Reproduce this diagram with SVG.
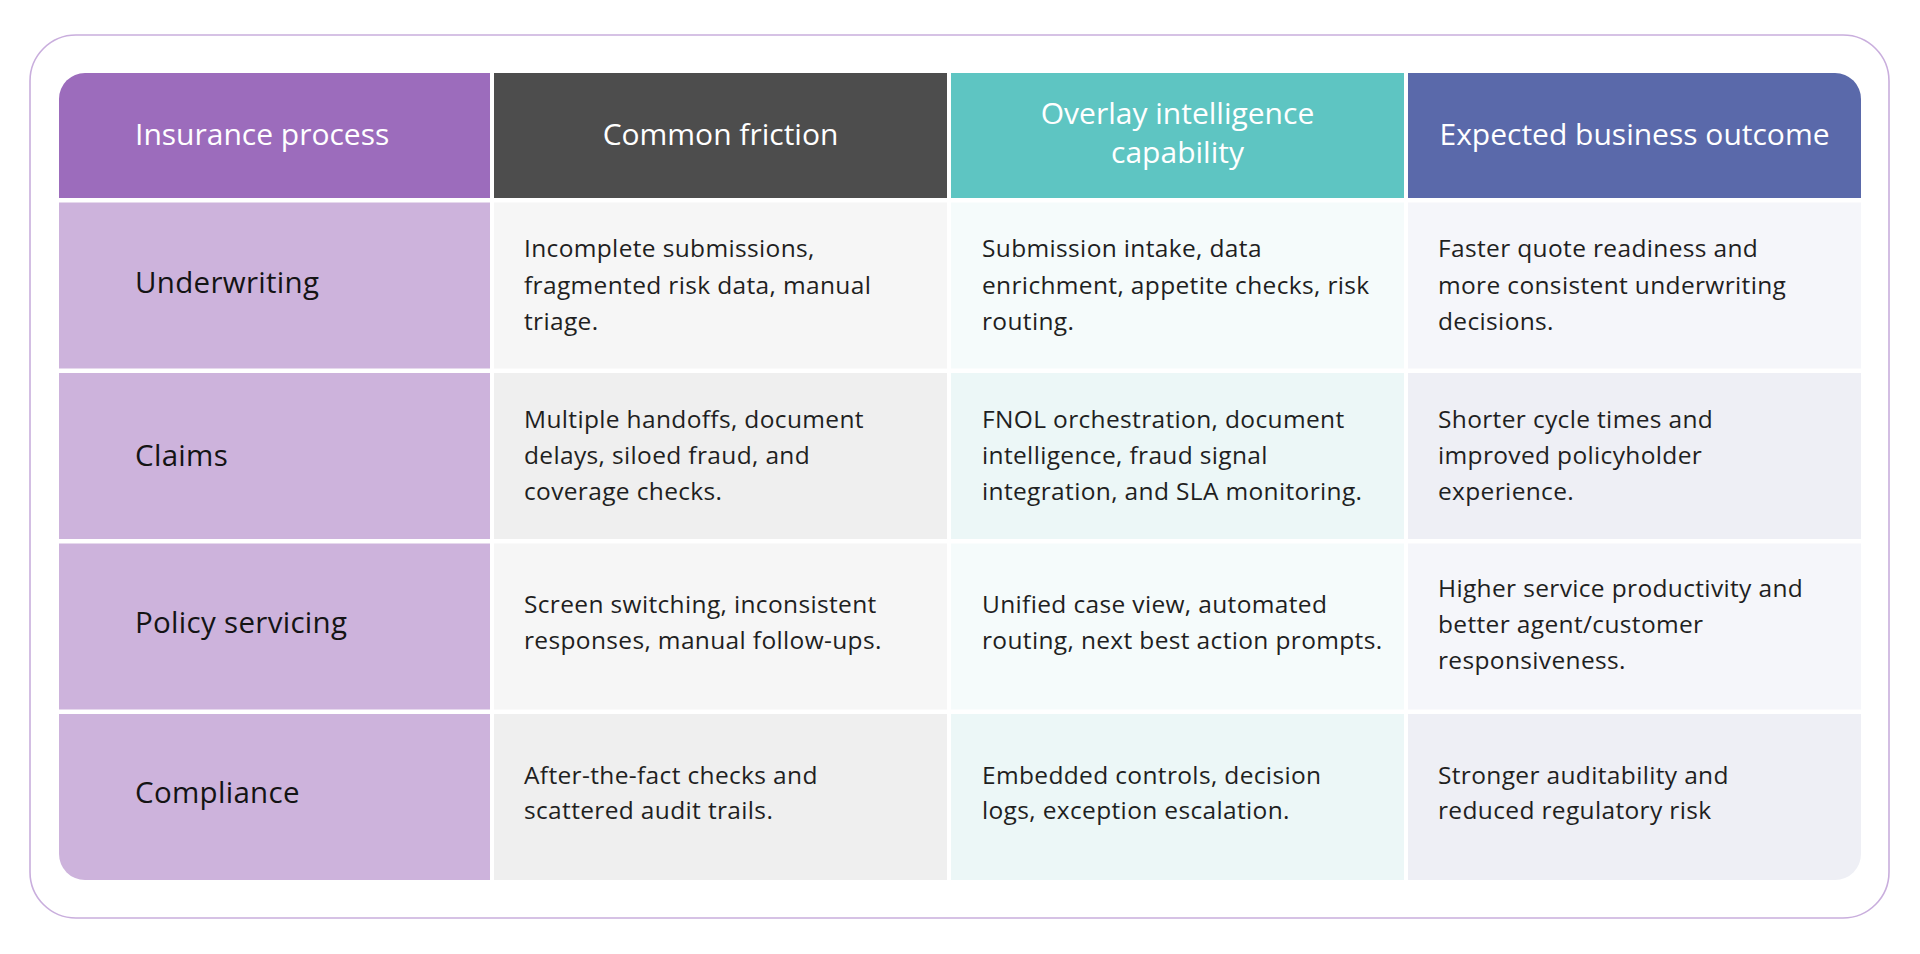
<svg xmlns="http://www.w3.org/2000/svg" width="1920" height="954" viewBox="0 0 1920 954">
<style>
.hd{font-family:"Open Sans","Liberation Sans",sans-serif;font-size:30px;fill:#ffffff}
.lb{font-family:"Open Sans","Liberation Sans",sans-serif;font-size:29.5px;letter-spacing:0.3px;fill:#141414}
.tx{font-family:"Open Sans","Liberation Sans",sans-serif;font-size:24.5px;letter-spacing:0.35px;fill:#1f1f1f}
.c{text-anchor:middle}
.p1{fill:#cdb3dc}
.f1{fill:#f6f6f6}.f2{fill:#efefef}
.o1{fill:#f5fbfb}.o2{fill:#ecf7f7}
.e1{fill:#f5f6fa}.e2{fill:#eeeff5}
</style>
<rect x="30" y="35" width="1859" height="883" rx="46" ry="46" fill="#ffffff" stroke="#c9aedd" stroke-width="1.6"/>
<g id="header">
<g id="h-process"><path d="M59,99 A26,26 0 0 1 85,73 H490 V198 H59 Z" fill="#9c6cbc"/><text class="hd" x="135" y="145">Insurance process</text></g>
<g id="h-friction"><rect x="494" y="73" width="453" height="125" fill="#4d4d4d"/><text class="hd c" x="720.5" y="145">Common friction</text></g>
<g id="h-overlay"><rect x="951" y="73" width="453" height="125" fill="#5ec5c2"/><text class="hd c" x="1177.5" y="124">Overlay intelligence</text><text class="hd c" x="1177.5" y="163">capability</text></g>
<g id="h-outcome"><path d="M1408,73 H1835 A26,26 0 0 1 1861,99 V198 H1408 Z" fill="#5a69aa"/><text class="hd c" x="1634.5" y="145">Expected business outcome</text></g>
</g>
<g id="row-underwriting">
<rect class="p1" x="59" y="202.5" width="431" height="166"/>
<text class="lb" x="135" y="292.5">Underwriting</text>
<rect class="f1" x="494" y="202.5" width="453" height="166"/>
<text class="tx" x="524" y="257">Incomplete submissions,</text>
<text class="tx" x="524" y="293.5">fragmented risk data, manual</text>
<text class="tx" x="524" y="330">triage.</text>
<rect class="o1" x="951" y="202.5" width="453" height="166"/>
<text class="tx" x="982" y="257">Submission intake, data</text>
<text class="tx" x="982" y="293.5">enrichment, appetite checks, risk</text>
<text class="tx" x="982" y="330">routing.</text>
<rect class="e1" x="1408" y="202.5" width="453" height="166"/>
<text class="tx" x="1438" y="257">Faster quote readiness and</text>
<text class="tx" x="1438" y="293.5">more consistent underwriting</text>
<text class="tx" x="1438" y="330">decisions.</text>
</g>
<g id="row-claims">
<rect class="p1" x="59" y="373" width="431" height="166"/>
<text class="lb" x="135" y="466">Claims</text>
<rect class="f2" x="494" y="373" width="453" height="166"/>
<text class="tx" x="524" y="428">Multiple handoffs, document</text>
<text class="tx" x="524" y="464">delays, siloed fraud, and</text>
<text class="tx" x="524" y="500">coverage checks.</text>
<rect class="o2" x="951" y="373" width="453" height="166"/>
<text class="tx" x="982" y="428">FNOL orchestration, document</text>
<text class="tx" x="982" y="464">intelligence, fraud signal</text>
<text class="tx" x="982" y="500">integration, and SLA monitoring.</text>
<rect class="e2" x="1408" y="373" width="453" height="166"/>
<text class="tx" x="1438" y="428">Shorter cycle times and</text>
<text class="tx" x="1438" y="464">improved policyholder</text>
<text class="tx" x="1438" y="500">experience.</text>
</g>
<g id="row-policy">
<rect class="p1" x="59" y="543.5" width="431" height="166"/>
<text class="lb" x="135" y="632.5">Policy servicing</text>
<rect class="f1" x="494" y="543.5" width="453" height="166"/>
<text class="tx" x="524" y="613">Screen switching, inconsistent</text>
<text class="tx" x="524" y="649">responses, manual follow-ups.</text>
<rect class="o1" x="951" y="543.5" width="453" height="166"/>
<text class="tx" x="982" y="613">Unified case view, automated</text>
<text class="tx" x="982" y="649">routing, next best action prompts.</text>
<rect class="e1" x="1408" y="543.5" width="453" height="166"/>
<text class="tx" x="1438" y="597">Higher service productivity and</text>
<text class="tx" x="1438" y="633">better agent/customer</text>
<text class="tx" x="1438" y="669">responsiveness.</text>
</g>
<g id="row-compliance">
<path class="p1" d="M59,714 H490 V880 H85 A26,26 0 0 1 59,854 Z"/>
<text class="lb" x="135" y="803">Compliance</text>
<rect class="f2" x="494" y="714" width="453" height="166"/>
<text class="tx" x="524" y="783.5">After-the-fact checks and</text>
<text class="tx" x="524" y="819">scattered audit trails.</text>
<rect class="o2" x="951" y="714" width="453" height="166"/>
<text class="tx" x="982" y="783.5">Embedded controls, decision</text>
<text class="tx" x="982" y="819">logs, exception escalation.</text>
<path class="e2" d="M1408,714 H1861 V854 A26,26 0 0 1 1835,880 H1408 Z"/>
<text class="tx" x="1438" y="783.5">Stronger auditability and</text>
<text class="tx" x="1438" y="819">reduced regulatory risk</text>
</g>
<g id="connectors"></g>
</svg>
